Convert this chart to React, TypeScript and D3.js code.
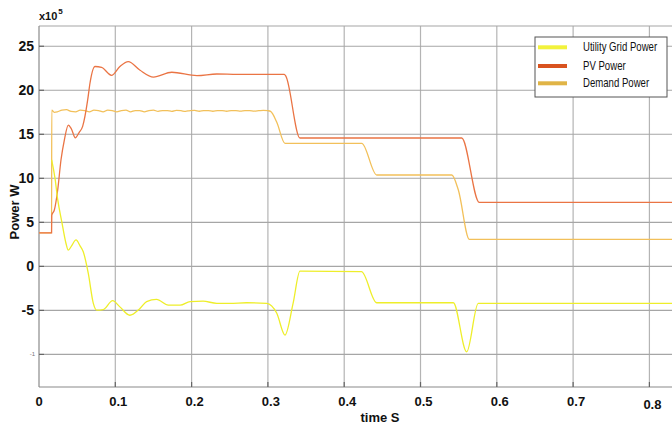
import React from "react";
import * as d3 from "d3";

const xTicks = [0, 0.1, 0.2, 0.3, 0.4, 0.5, 0.6, 0.7, 0.8];
const xTickLabels = ["0", "0.1", "0.2", "0.3", "0.4", "0.5", "0.6", "0.7", "0.8"];
const yTicks = [-10, -5, 0, 5, 10, 15, 20, 25];
const yTickLabels = ["-1", "-5", "0", "5", "10", "15", "20", "25"];

const seriesNames = ["Utility Grid Power", "PV Power", "Demand Power"];

const pvT = [0, 0.0165, 0.0167, 0.0201, 0.0245, 0.0288, 0.0332, 0.0384, 0.0425, 0.0476, 0.0525, 0.0572, 0.0638, 0.0668, 0.0734, 0.082, 0.095, 0.106, 0.117, 0.132, 0.15, 0.174, 0.207, 0.233, 0.26, 0.3215, 0.3235, 0.342, 0.554, 0.577, 0.83];
const pvV = [3.8, 3.8, 5.8, 6.4, 8.67, 12.08, 14.35, 16.05, 15.6, 14.6, 15.2, 15.9, 18.9, 20.8, 22.7, 22.6, 21.7, 22.7, 23.25, 22.3, 21.5, 22.05, 21.66, 21.85, 21.8, 21.8, 21.6, 14.58, 14.58, 7.27, 7.27];

const demandT = [0, 0.0165, 0.0167, 0.02, 0.024, 0.03, 0.036, 0.042, 0.048, 0.054, 0.06, 0.066, 0.072, 0.078, 0.084, 0.09, 0.096, 0.102, 0.108, 0.114, 0.12, 0.126, 0.132, 0.138, 0.144, 0.15, 0.156, 0.162, 0.168, 0.174, 0.18, 0.186, 0.192, 0.198, 0.204, 0.21, 0.216, 0.222, 0.228, 0.234, 0.24, 0.246, 0.252, 0.258, 0.264, 0.27, 0.276, 0.282, 0.288, 0.294, 0.3, 0.3035, 0.3115, 0.3224, 0.423, 0.4426, 0.541, 0.5496, 0.564, 0.83];
const demandV = [3.8, 3.8, 17.75, 17.5, 17.55, 17.75, 17.8, 17.6, 17.55, 17.75, 17.7, 17.55, 17.75, 17.7, 17.55, 17.75, 17.7, 17.55, 17.7, 17.75, 17.55, 17.7, 17.7, 17.55, 17.7, 17.75, 17.6, 17.7, 17.7, 17.6, 17.72, 17.68, 17.6, 17.7, 17.72, 17.62, 17.7, 17.7, 17.62, 17.7, 17.7, 17.62, 17.7, 17.7, 17.64, 17.7, 17.7, 17.64, 17.68, 17.72, 17.68, 17.6, 16.4, 13.98, 13.98, 10.38, 10.38, 8.67, 3.07, 3.07];

const gridT = [0.0166, 0.021, 0.0245, 0.03, 0.0354, 0.0384, 0.0425, 0.0485, 0.054, 0.058, 0.0646, 0.0712, 0.0756, 0.0843, 0.0965, 0.106, 0.119, 0.132, 0.141, 0.154, 0.1695, 0.185, 0.198, 0.215, 0.233, 0.25, 0.272, 0.2985, 0.3115, 0.3224, 0.333, 0.342, 0.4226, 0.4426, 0.543, 0.5605, 0.5757, 0.83];
const gridV = [12.1, 10.0, 7.6, 5.0, 2.6, 1.85, 2.3, 3.0, 2.3, 1.66, -0.8, -4.2, -4.97, -4.9, -3.9, -4.6, -5.55, -4.8, -4.0, -3.75, -4.4, -4.4, -4.0, -3.95, -4.2, -4.2, -4.13, -4.2, -5.3, -7.8, -4.2, -0.55, -0.6, -4.13, -4.13, -9.7, -4.2, -4.2];

const W = 672;
const H = 428;
const L = 39, R = 672, T = 26, B = 387;

export default function App() {
  const x = d3.scaleLinear().domain([0, 0.8296]).range([L, R]);
  const y = d3.scaleLinear().domain([-13.7, 27.3]).range([B, T]);

  const line = d3
    .line<[number, number]>()
    .x((d) => x(d[0]))
    .y((d) => y(d[1]))
    .curve(d3.curveMonotoneX);

  const zip = (a: number[], b: number[]) => a.map((t, i) => [t, b[i]] as [number, number]);

  const series = [
    { name: seriesNames[2], data: zip(demandT, demandV), color: "#f2c05a" },
    { name: seriesNames[1], data: zip(pvT, pvV), color: "#ea7444" },
    { name: seriesNames[0], data: zip(gridT, gridV), color: "#eeee2a" },
  ];

  const legendItems = [
    { name: seriesNames[0], color: "#f2f23c", y: 47.3, sx: 0.8 },
    { name: seriesNames[1], color: "#d9531f", y: 66, sx: 0.8 },
    { name: seriesNames[2], color: "#e0b446", y: 83.3, sx: 0.8 },
  ];

  const font = "'Liberation Sans', Arial, sans-serif";

  return (
    <svg width={W} height={H} style={{ position: "absolute", left: 0, top: 0, display: "block", background: "#fff" }}>
      <rect x={0} y={0} width={W} height={H} fill="#fff" />
      {xTicks.slice(1).map((t) => (
        <line key={"vx" + t} x1={x(t)} x2={x(t)} y1={T} y2={B} stroke="#b4b4b4" strokeWidth={1.2} />
      ))}
      {yTicks.map((t) => (
        <line key={"hy" + t} x1={L} x2={R} y1={y(t)} y2={y(t)} stroke="#a6a6a6" strokeWidth={1.1} />
      ))}
      <line x1={L} x2={R} y1={T} y2={T} stroke="#a6a6a6" strokeWidth={1.1} />
      <line x1={L} x2={L} y1={T} y2={B} stroke="#8a8a8a" strokeWidth={1.2} />
      <line x1={L} x2={R} y1={B} y2={B} stroke="#8a8a8a" strokeWidth={1.2} />
      {yTicks.map((t) => (
        <line key={"yt" + t} x1={L} x2={L + 5} y1={y(t)} y2={y(t)} stroke="#666" strokeWidth={1.2} />
      ))}
      {xTicks.slice(1).map((t) => (
        <line key={"xt" + t} x1={x(t)} x2={x(t)} y1={B} y2={B - 5} stroke="#666" strokeWidth={1.2} />
      ))}
      {series.map((s) => (
        <path key={s.name} d={line(s.data) || ""} fill="none" stroke={s.color} strokeWidth={1.3} />
      ))}
      {yTicks.map((t, i) =>
        t === -10 ? (
          <text key={"yl" + t} x={35} y={y(t) + 2} fontSize={6} fill="#777" textAnchor="end" fontFamily={font}>
            {yTickLabels[i]}
          </text>
        ) : (
          <text key={"yl" + t} x={34} y={y(t) + 5} fontSize={14} fontWeight="bold" fill="#111" textAnchor="end" fontFamily={font}>
            {yTickLabels[i]}
          </text>
        )
      )}
      {xTicks.map((t, i) => (
        <text key={"xl" + t} x={x(t) + (i === 0 ? 0 : 3)} y={i === 8 ? 409 : 406} fontSize={13} fontWeight="bold" fill="#111" textAnchor="middle" fontFamily={font}>
          {xTickLabels[i]}
        </text>
      ))}
      <text x={380} y={422} fontSize={13} fontWeight="bold" fill="#111" textAnchor="middle" fontFamily={font}>
        time S
      </text>
      <text transform="translate(19,212) rotate(-90)" fontSize={13} fontWeight="bold" fill="#111" textAnchor="middle" fontFamily={font}>
        Power W
      </text>
      <text x={39} y={20} fontSize={11} fontWeight="bold" fill="#111" fontFamily={font}>
        x10
        <tspan dx={1} dy={-6} fontSize={8}>5</tspan>
      </text>
      <rect x={535} y={37} width={132} height={60} fill="#fff" stroke="#555" strokeWidth={1} />
      {legendItems.map((d) => (
        <g key={d.name}>
          <line x1={538} x2={567} y1={d.y} y2={d.y} stroke={d.color} strokeWidth={4} />
          <g transform={`translate(583,${d.y + 4}) scale(${d.sx},1)`}>
            <text x={0} y={0} fontSize={12} fill="#111" fontFamily={font}>
              {d.name}
            </text>
          </g>
        </g>
      ))}
    </svg>
  );
}
